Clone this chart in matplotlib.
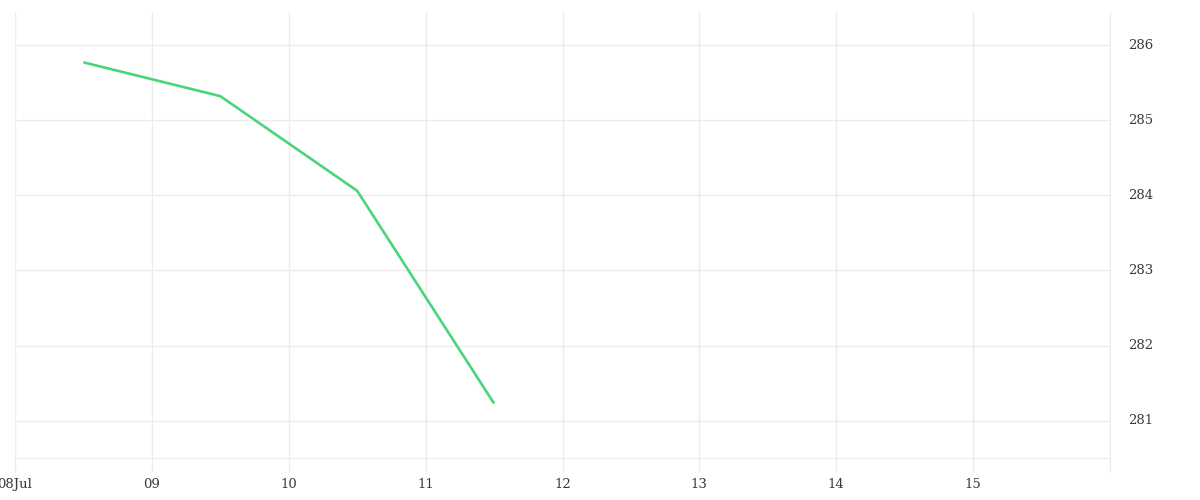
import matplotlib
matplotlib.use("Agg")
import matplotlib.pyplot as plt

# Data
x_days = [8.5, 9.5, 10.5, 11.5]
values = [285.77, 285.32, 284.06, 281.23]
x_ticks = [8, 9, 10, 11, 12, 13, 14, 15, 16]
x_labels = ["08Jul", "09", "10", "11", "12", "13", "14", "15", ""]
y_ticks = [281, 282, 283, 284, 285, 286]

plt.rcParams['font.family'] = ['DejaVu Serif']

fig = plt.figure(figsize=(12, 5), dpi=100)
ax = fig.add_axes([0.0125, 0.0834, 0.9125, 0.8926])

ax.plot(x_days, values, color='#4cd47b', linewidth=1.9, solid_capstyle='butt')

ax.set_xlim(8, 16)
ax.set_ylim(280.50, 286.44)
ax.set_xticks(x_ticks)
ax.set_xticklabels(x_labels)
ax.set_yticks(y_ticks)
ax.yaxis.tick_right()

ax.grid(True, color='#ececec', linewidth=1)
for s in ['top', 'left']:
    ax.spines[s].set_visible(False)
ax.spines['bottom'].set_color('#ececec')
ax.spines['right'].set_color('#ececec')

ax.tick_params(axis='x', length=10, width=1, color='#ececec', labelsize=9.5,
               labelcolor='#3a3a3a', pad=4)
ax.tick_params(axis='y', length=0, labelsize=9.5, labelcolor='#3a3a3a', pad=13)
for lbl in ax.get_yticklabels():
    lbl.set_verticalalignment('center')
    lbl.set_y(lbl.get_position()[1])

fig.savefig("out.png", dpi=100, facecolor='white')
